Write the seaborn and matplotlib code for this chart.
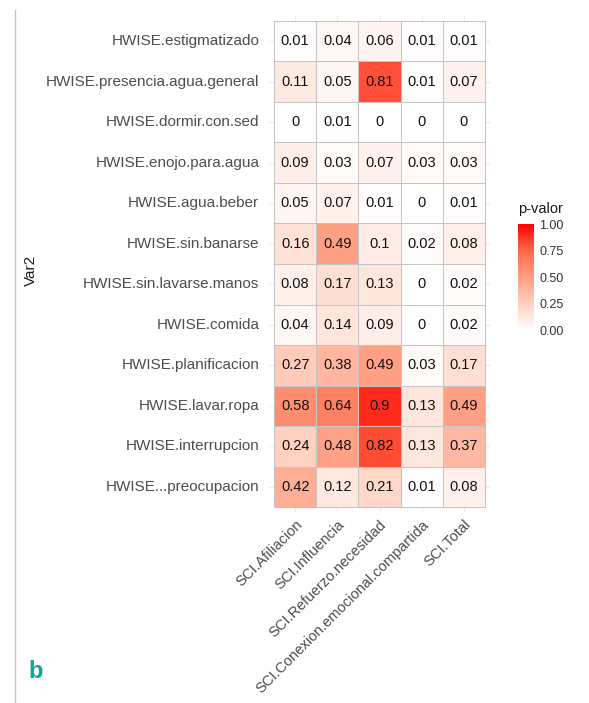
import numpy as np
import pandas as pd
import seaborn as sns
from matplotlib import pyplot as plt
from matplotlib.colors import LinearSegmentedColormap
from matplotlib.lines import Line2D

filas = ['HWISE.estigmatizado', 'HWISE.presencia.agua.general', 'HWISE.dormir.con.sed',
         'HWISE.enojo.para.agua', 'HWISE.agua.beber', 'HWISE.sin.banarse',
         'HWISE.sin.lavarse.manos', 'HWISE.comida', 'HWISE.planificacion',
         'HWISE.lavar.ropa', 'HWISE.interrupcion', 'HWISE...preocupacion']
columnas = ['SCI.Afiliacion', 'SCI.Influencia', 'SCI.Refuerzo.necesidad',
            'SCI.Conexion.emocional.compartida', 'SCI.Total']

afiliacion = [0.01, 0.11, 0, 0.09, 0.05, 0.16, 0.08, 0.04, 0.27, 0.58, 0.24, 0.42]
influencia = [0.04, 0.05, 0.01, 0.03, 0.07, 0.49, 0.17, 0.14, 0.38, 0.64, 0.48, 0.12]
refuerzo = [0.06, 0.81, 0, 0.07, 0.01, 0.1, 0.13, 0.09, 0.49, 0.9, 0.82, 0.21]
conexion = [0.01, 0.01, 0, 0.03, 0, 0.02, 0, 0, 0.03, 0.13, 0.13, 0.01]
total = [0.01, 0.07, 0, 0.03, 0.01, 0.08, 0.02, 0.02, 0.17, 0.49, 0.37, 0.08]

df = pd.DataFrame(dict(zip(columnas, [afiliacion, influencia, refuerzo, conexion, total])),
                  index=filas)
etiquetas = df.map(lambda v: f'{v:g}')

# white -> red, roughly like ggplot's Lab interpolation
cmap = LinearSegmentedColormap.from_list('pval', [
    (0.0, '#FFFFFF'), (0.125, '#FFE7DE'), (0.25, '#FFCFBE'),
    (0.5, '#FF9E82'), (0.75, '#FF6948'), (1.0, '#FF0000')])

sns.set_theme(style='white')
plt.rcParams['font.family'] = ['Liberation Sans', 'DejaVu Sans']

fig = plt.figure(figsize=(5.89, 7.03), dpi=100)
ax = fig.add_axes([269 / 589, 1 - 512 / 703, 221 / 589, 496 / 703])
cax = fig.add_axes([518 / 589, 1 - 330 / 703, 16 / 589, 106 / 703])

sns.heatmap(df, ax=ax, cbar_ax=cax, cmap=cmap, vmin=0, vmax=1,
            annot=etiquetas, fmt='', annot_kws={'size': 10.5, 'color': '#111111'},
            linewidths=0.7, linecolor='#C4C4C4')

ax.set_xlim(-0.12, 5.12)
ax.set_ylim(12.12, -0.12)
ax.set_axisbelow(True)
ax.grid(True, color='#EBEBEB', linewidth=0.8)
for s in ax.spines.values():
    s.set_visible(False)
ax.tick_params(axis='y', length=0, labelsize=11, labelcolor='#4D4D4D', pad=7)
ax.tick_params(axis='x', length=0, labelsize=10.5, labelcolor='#4D4D4D', pad=4)
ax.set_xticklabels(columnas, rotation=45, ha='right', rotation_mode='anchor')
ax.set_yticklabels(filas, rotation=0)
ax.set_xlabel('')
ax.set_ylabel('')
fig.text(31 / 589, 1 - 270 / 703, 'Var2', rotation=90, ha='center', va='center',
         fontsize=11, color='#1A1A1A')

cb = ax.collections[0].colorbar
cb.outline.set_visible(False)
cb.set_ticks([0, 0.25, 0.5, 0.75, 1.0])
cb.set_ticklabels(['0.00', '0.25', '0.50', '0.75', '1.00'])
cax.tick_params(length=3, color='white', direction='in', labelsize=9,
                labelcolor='#333333', pad=4)
cax.set_title('p-valor', fontsize=10.5, loc='left', pad=8, color='#1A1A1A')

fig.add_artist(Line2D([15 / 589, 15 / 589], [0, 1 - 10 / 703], color='#C8C8C8', linewidth=1))
fig.text(36 / 589, 1 - 671 / 703, 'b', fontsize=17, fontweight='bold', color='#12A39A',
         ha='center', va='center')

fig.savefig('out.png', dpi=100)
